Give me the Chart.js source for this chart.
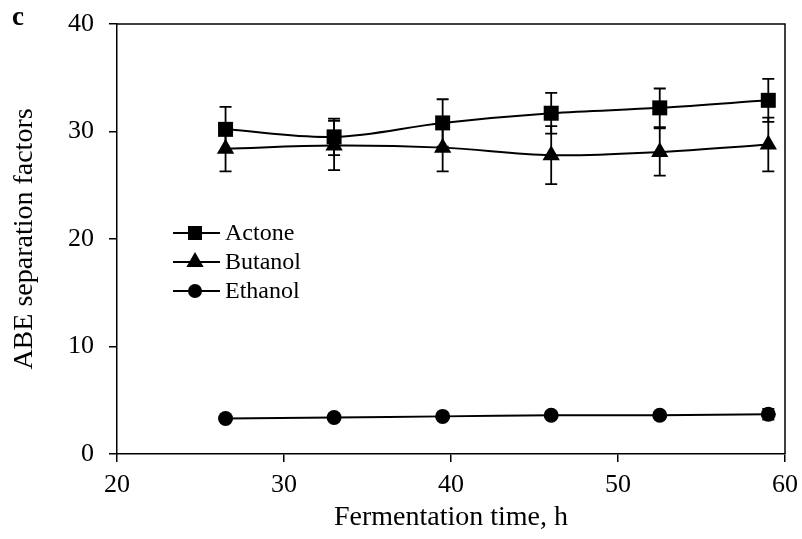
<!DOCTYPE html>
<html>
<head>
<meta charset="utf-8">
<script src="https://cdn.jsdelivr.net/npm/chart.js@4.4.0/dist/chart.umd.min.js"></script>
<style>
  html, body { margin: 0; padding: 0; background: #fff; }
  #wrap { width: 802px; height: 539px; position: relative; }
</style>
</head>
<body>
<div id="wrap"><canvas id="myChart"></canvas></div>
<script>
// fermentation time (h)
const times = [26.5, 33, 39.5, 46, 52.5, 59];

// separation factors and their error bars
const acetone = [30.2, 29.5, 30.8, 31.7, 32.2, 32.9];
const acetoneErr = [2.1, 1.7, 2.2, 1.9, 1.8, 2.0];
const butanol = [28.4, 28.7, 28.5, 27.8, 28.1, 28.8];
const butanolErr = [2.1, 2.3, 2.2, 2.7, 2.2, 2.5];
const ethanol = [3.3, 3.4, 3.5, 3.6, 3.6, 3.7];
const ethanolErr = [0.2, 0.2, 0.2, 0.2, 0.3, 0.5];

const seriesNames = ['Actone', 'Butanol', 'Ethanol'];
const xTicks = [20, 30, 40, 50, 60];
const yTicks = [0, 10, 20, 30, 40];

const serif = "'Liberation Serif', 'DejaVu Serif', serif";

function toPoints(ys) {
    return times.map((t, i) => ({ x: t, y: ys[i] }));
}

const errors = [acetoneErr, butanolErr, ethanolErr];

// error bars, drawn under the markers
const errorBars = {
    id: 'errorBars',
    beforeDatasetsDraw(chart) {
        const ctx = chart.ctx;
        const xs = chart.scales.x;
        const ys = chart.scales.y;
        ctx.save();
        ctx.strokeStyle = '#000';
        ctx.lineWidth = 1.8;
        chart.data.datasets.forEach((ds, d) => {
            ds.data.forEach((p, i) => {
                const e = errors[d][i];
                const px = xs.getPixelForValue(p.x);
                const top = ys.getPixelForValue(p.y + e);
                const bot = ys.getPixelForValue(p.y - e);
                ctx.beginPath();
                ctx.moveTo(px, top); ctx.lineTo(px, bot);
                ctx.moveTo(px - 6, top); ctx.lineTo(px + 6, top);
                ctx.moveTo(px - 6, bot); ctx.lineTo(px + 6, bot);
                ctx.stroke();
            });
        });
        ctx.restore();
    }
};

// top and right frame, the letter c and the legend inside the plot
const legendRadius = [8.5, 8, 6];
const decorations = {
    id: 'decorations',
    afterDraw(chart) {
        const ctx = chart.ctx;
        const a = chart.chartArea;
        ctx.save();
        ctx.strokeStyle = '#000';
        ctx.lineWidth = 1.5;
        ctx.beginPath();
        ctx.moveTo(a.left, a.top); ctx.lineTo(a.right, a.top); ctx.lineTo(a.right, a.bottom);
        ctx.stroke();

        ctx.fillStyle = '#000';
        ctx.font = 'bold 27px ' + serif;
        ctx.textBaseline = 'alphabetic';
        ctx.fillText('c', 12, 25);

        const rows = [233, 262, 291];
        ctx.font = '24px ' + serif;
        ctx.textBaseline = 'middle';
        chart.data.datasets.forEach((ds, d) => {
            const y = rows[d];
            ctx.lineWidth = 2;
            ctx.beginPath();
            ctx.moveTo(173, y); ctx.lineTo(220, y);
            ctx.stroke();
            Chart.helpers.drawPoint(ctx, {
                pointStyle: ds.pointStyle, radius: legendRadius[d], borderWidth: 1
            }, 195, y);
            ctx.fill();
            ctx.fillText(seriesNames[d], 225, y + 1);
        });
        ctx.restore();
    }
};

const ctx = document.getElementById('myChart');

new Chart(ctx, {
    type: 'line',
    data: {
        datasets: [
            { label: seriesNames[0], data: toPoints(acetone), pointStyle: 'rect', pointRadius: 10.6 },
            { label: seriesNames[1], data: toPoints(butanol), pointStyle: 'triangle', pointRadius: 10 },
            { label: seriesNames[2], data: toPoints(ethanol), pointStyle: 'circle', pointRadius: 7.5 }
        ].map(ds => Object.assign(ds, {
            borderColor: '#000',
            backgroundColor: '#000',
            pointBackgroundColor: '#000',
            pointBorderColor: '#000',
            pointBorderWidth: 0,
            borderWidth: 2,
            tension: 0.35,
            fill: false
        }))
    },
    options: {
        responsive: true,
        maintainAspectRatio: false,
        animation: false,
        layout: { padding: { top: 24, right: 17, left: 0, bottom: 0 } },
        plugins: {
            legend: { display: false },
            tooltip: { enabled: false }
        },
        scales: {
            x: {
                type: 'linear',
                min: 20,
                max: 60,
                afterBuildTicks: s => { s.ticks = xTicks.map(v => ({ value: v })); },
                afterFit: s => { s.height = 85; s.paddingLeft = 0; s.paddingRight = 0; },
                ticks: { color: '#000', font: { family: serif, size: 26 }, padding: 8, maxRotation: 0 },
                grid: { drawOnChartArea: false, color: '#000', tickLength: 8, lineWidth: 1.5 },
                border: { color: '#000', width: 1.5 },
                title: {
                    display: true,
                    text: 'Fermentation time, h',
                    color: '#000',
                    font: { family: serif, size: 28 },
                    padding: { top: 0, bottom: 5 }
                }
            },
            y: {
                min: 0,
                max: 40,
                afterBuildTicks: s => { s.ticks = yTicks.map(v => ({ value: v })); },
                afterFit: s => { s.width = 117; s.paddingTop = 0; s.paddingBottom = 0; },
                ticks: { color: '#000', font: { family: serif, size: 26 }, padding: 15 },
                grid: { drawOnChartArea: false, color: '#000', tickLength: 8, lineWidth: 1.5 },
                border: { color: '#000', width: 1.5 },
                title: {
                    display: true,
                    text: 'ABE separation factors',
                    color: '#000',
                    font: { family: serif, size: 28 },
                    padding: { top: 8, bottom: 0 }
                }
            }
        }
    },
    plugins: [errorBars, decorations]
});
</script>
</body>
</html>
